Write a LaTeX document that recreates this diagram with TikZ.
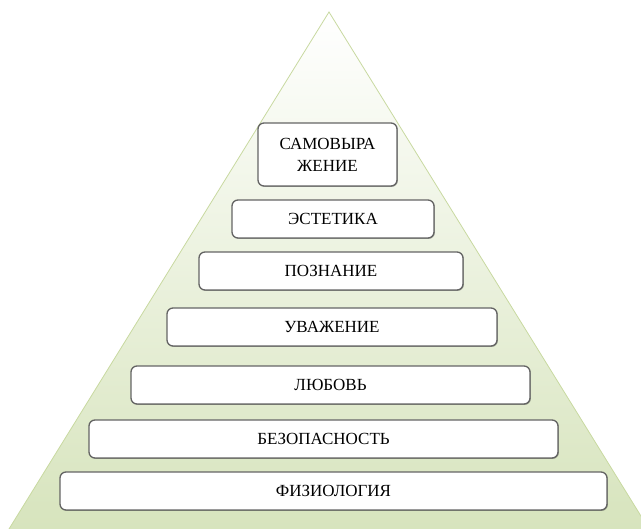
\documentclass[tikz,border=0pt]{standalone}
\usepackage{fontspec}
\setmainfont{Liberation Serif}
\usetikzlibrary{shadows}
\definecolor{trigreen}{RGB}{215,228,189}
\definecolor{triedge}{RGB}{200,217,160}
\definecolor{boxedge}{RGB}{100,100,100}
\tikzset{
  levelbox/.style={draw=boxedge, line width=1.3pt, fill=white, rounded corners=6pt,
    inner sep=0pt, align=center, font=\fontsize{17}{22}\selectfont,
    drop shadow={shadow xshift=0.8pt, shadow yshift=-0.8pt, opacity=0.35, fill=black}}
}
\begin{document}
\begin{tikzpicture}[x=1pt,y=-1pt]
\useasboundingbox (0,0) rectangle (641,529);
\clip (0,0) rectangle (641,529);
\shade[top color=white, bottom color=trigreen, shading angle=0]
  (329,12) -- (9,529) -- (649,529) -- cycle;
\draw[triedge, line width=0.8pt] (9,529) -- (329,12) -- (649,529);
\node[levelbox, minimum width=139pt, minimum height=63pt] (s7) at (327.5,154.5) {САМОВЫРА\\ЖЕНИЕ};
\node[levelbox, minimum width=202pt, minimum height=38pt] (s6) at (333,219) {ЭСТЕТИКА};
\node[levelbox, minimum width=264pt, minimum height=38pt] (s5) at (331,271) {ПОЗНАНИЕ};
\node[levelbox, minimum width=330pt, minimum height=38pt] (s4) at (332,327) {УВАЖЕНИЕ};
\node[levelbox, minimum width=399pt, minimum height=38pt] (s3) at (330.5,385) {ЛЮБОВЬ};
\node[levelbox, minimum width=469pt, minimum height=38pt] (s2) at (323.5,439) {БЕЗОПАСНОСТЬ};
\node[levelbox, minimum width=547pt, minimum height=38pt] (s1) at (333.5,491) {ФИЗИОЛОГИЯ};
\end{tikzpicture}
\end{document}
